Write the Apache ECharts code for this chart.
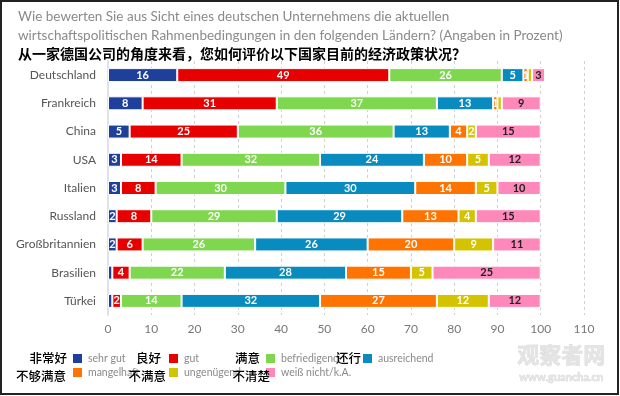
<!DOCTYPE html>
<html><head><meta charset="utf-8">
<script src="https://cdn.jsdelivr.net/npm/echarts@6/dist/echarts.min.js"></script>
<style>html,body{margin:0;padding:0;background:#fff}#c{width:620px;height:396px}</style>
</head><body><div id="c"></div>
<script>
const categories = ['Deutschland','Frankreich','China','USA','Italien','Russland','Großbritannien','Brasilien','Türkei'];
const seriesNames = ['sehr gut','gut','befriedigend','ausreichend','mangelhaft','ungenügend','weiß nicht/k.A.'];
const seriesNamesZh = ['非常好','良好','满意','还行','不够满意','不满意','不清楚'];
const sehrGut      = [16, 8, 5, 3, 3, 2, 2, 1, 1];
const gut          = [49,31,25,14, 8, 8, 6, 4, 2];
const befriedigend = [26,37,36,32,30,29,26,22,14];
const ausreichend  = [ 5,13,13,24,30,29,26,28,32];
const mangelhaft   = [ 1, 1, 4,10,14,13,20,15,27];
const ungenuegend  = [ 1, 1, 2, 5, 5, 4, 9, 5,12];
const weissNicht   = [ 3, 9,15,12,10,15,11,25,12];
const xTicks = [0,10,20,30,40,50,60,70,80,90,100,110];

const values = [sehrGut,gut,befriedigend,ausreichend,mangelhaft,ungenuegend,weissNicht];
const colors = ['#1E3F9A','#E60000','#7FD64F','#0A8BBF','#FF7300','#D4C300','#FF88BB'];
const labelColors = ['#fff','#fff','#fff','#fff','#fff','#fff','#222'];
const hideOne = [true,false,false,false,false,true,false];

const font = 'Lato, "Open Sans", sans-serif';
const series = values.map((arr, i) => ({
  name: seriesNames[i],
  type: 'bar',
  stack: 'total',
  barWidth: 14,
  data: arr,
  itemStyle: {color: colors[i], borderColor: '#fff', borderWidth: 1},
  label: {
    show: true, position: 'inside', color: labelColors[i],
    fontSize: 11, fontFamily: font, fontWeight: 'bold',
    formatter: p => (hideOne[i] && p.value < 2) ? '' : String(p.value)
  }
}));

// legend positions (one legend component per item)
const legPos = [[71,352],[167,352],[264,352],[361,352],[71,366],[167,366],[264,366]];
const legends = seriesNames.map((n, i) => ({
  data: [n], left: legPos[i][0], top: legPos[i][1],
  itemWidth: 11, itemHeight: 11, icon: 'rect', itemGap: 4, padding: 0,
  textStyle: {color: '#8a8a8a', fontSize: 10.5, fontFamily: font}
}));
const zhRight = [67,161,260,361,66,166,270];
const zhMid = [358,358,358,358,376,376,376];

const graphic = [
  {type:'text', left: 18, top: 10, style:{text:'Wie bewerten Sie aus Sicht eines deutschen Unternehmens die aktuellen', fill:'#8a8a8a', font:'13.5px ' + font}},
  {type:'text', left: 18, top: 29, style:{text:'wirtschaftspolitischen Rahmenbedingungen in den folgenden Ländern? (Angaben in Prozent)', fill:'#8a8a8a', font:'13.5px ' + font}},
  {type:'text', left: 18, top: 47, style:{text:'从一家德国公司的角度来看，您如何评价以下国家目前的经济政策状况？', fill:'#000', font:'bold 14px "Noto Sans CJK SC", sans-serif'}},
  {type:'text', left: 517, top: 343, style:{text:'观察者网', fill:'#e4e4e4', stroke:'#cfcfcf', lineWidth:0.5, font:'bold 22px "Noto Sans CJK SC", sans-serif'}},
  {type:'text', left: 519, top: 372, style:{text:'www.guancha.cn', fill:'#e4e4e4', stroke:'#cfcfcf', lineWidth:0.5, font:'bold 11px Lato, sans-serif'}},
  {type:'rect', shape:{x:1, y:1, width:617, height:393}, style:{fill:'none', stroke:'#222', lineWidth:2}, silent:true}
].concat(seriesNamesZh.map((t, i) => ({
  type:'text', x: zhRight[i], y: zhMid[i], z: 10,
  style:{text:t, fill:'#000', font:'500 12.5px "Noto Sans CJK SC", sans-serif', align:'right', verticalAlign:'middle'}
})));

const chart = echarts.init(document.getElementById('c'));
chart.setOption({
  animation: false,
  backgroundColor: '#fff',
  grid: {left: 108, right: 36, top: 61, bottom: 81, containLabel: false},
  legend: legends,
  xAxis: {
    type: 'value', min: 0, max: 110, interval: 10,
    axisLine: {show: false}, axisTick: {show: false},
    splitLine: {show: true, lineStyle: {color: '#d0d0d0', type: [3,3], width: 1}},
    axisLabel: {color: '#777', fontSize: 12, fontFamily: font, margin: 8,
      formatter: v => xTicks.includes(v) ? String(v) : ''}
  },
  yAxis: {
    type: 'category', data: categories, inverse: true,
    axisLine: {show: true, lineStyle: {color: '#dde3ee', width: 2}},
    axisTick: {show: false},
    axisLabel: {color: '#555', fontSize: 12, fontFamily: font, margin: 12}
  },
  series: series,
  graphic: graphic
});
</script></body></html>
